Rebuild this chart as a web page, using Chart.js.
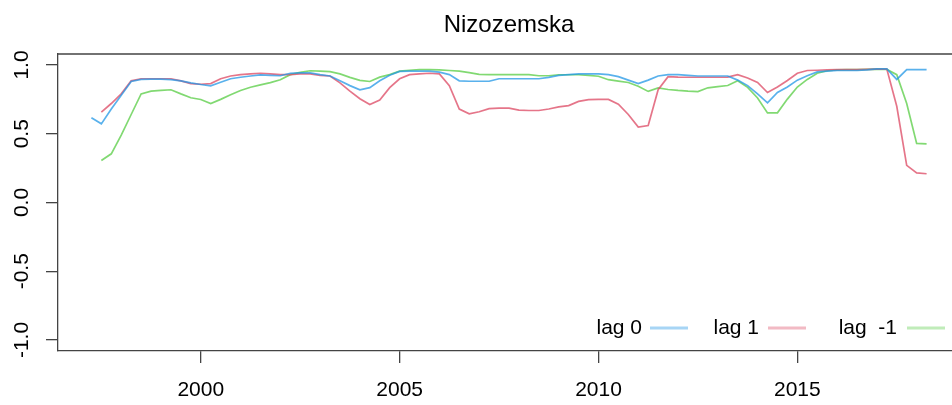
<!DOCTYPE html>
<html>
<head>
<meta charset="utf-8">
<script src="https://cdn.jsdelivr.net/npm/chart.js@4"></script>
<style>
  html, body { margin: 0; padding: 0; background: #fff; overflow: hidden; }
</style>
</head>
<body>
<canvas id="lagChart" width="980" height="405"></canvas>
<script>
// quarterly series, first quarter 1997 Q2
var t0 = 1997.25;
var dt = 0.25;

var lag0 = [0.616, 0.572, 0.68, 0.78, 0.88, 0.895, 0.897, 0.897, 0.893, 0.885,
  0.87, 0.858, 0.848, 0.875, 0.9, 0.911, 0.92, 0.928, 0.925, 0.922,
  0.94, 0.943, 0.943, 0.93, 0.92, 0.885, 0.85, 0.82, 0.835, 0.885,
  0.925, 0.953, 0.955, 0.955, 0.955, 0.948, 0.93, 0.885, 0.882, 0.882,
  0.882, 0.9, 0.9, 0.9, 0.9, 0.9, 0.91, 0.924, 0.93, 0.936,
  0.936, 0.936, 0.93, 0.915, 0.89, 0.865, 0.89, 0.92, 0.93, 0.93,
  0.925, 0.92, 0.92, 0.92, 0.92, 0.89, 0.85, 0.79, 0.725, 0.8,
  0.84, 0.89, 0.922, 0.95, 0.955, 0.96, 0.96, 0.96, 0.965, 0.972,
  0.972, 0.895, 0.967, 0.967, 0.967];

var lag1 = [null, 0.657, 0.72, 0.79, 0.885, 0.9, 0.9, 0.9, 0.9, 0.885,
  0.865, 0.86, 0.865, 0.9, 0.92, 0.93, 0.935, 0.94, 0.935, 0.93,
  0.93, 0.935, 0.935, 0.925, 0.92, 0.87, 0.81, 0.755, 0.712, 0.745,
  0.835, 0.9, 0.93, 0.935, 0.94, 0.935, 0.85, 0.68, 0.645, 0.66,
  0.683, 0.686, 0.686, 0.672, 0.669, 0.669, 0.68, 0.695, 0.705, 0.735,
  0.748, 0.75, 0.75, 0.715, 0.64, 0.548, 0.56, 0.82, 0.915, 0.912,
  0.911, 0.911, 0.911, 0.911, 0.912, 0.93, 0.905, 0.873, 0.8, 0.84,
  0.887, 0.94, 0.96, 0.962, 0.965, 0.967, 0.967, 0.967, 0.968, 0.97,
  0.97, 0.70, 0.27, 0.215, 0.209];

var lagM1 = [null, 0.305, 0.354, 0.49, 0.64, 0.79, 0.81, 0.815, 0.82, 0.79,
  0.762, 0.749, 0.72, 0.75, 0.783, 0.815, 0.838, 0.855, 0.872, 0.893,
  0.93, 0.946, 0.958, 0.955, 0.952, 0.935, 0.91, 0.888, 0.88, 0.912,
  0.93, 0.955, 0.962, 0.966, 0.967, 0.965, 0.96, 0.955, 0.945, 0.932,
  0.93, 0.93, 0.93, 0.93, 0.93, 0.922, 0.922, 0.929, 0.929, 0.929,
  0.925, 0.918, 0.893, 0.883, 0.873, 0.845, 0.808, 0.833, 0.822, 0.815,
  0.81, 0.807, 0.834, 0.843, 0.851, 0.886, 0.837, 0.76, 0.652, 0.652,
  0.752, 0.84, 0.895, 0.94, 0.958, 0.965, 0.966, 0.967, 0.968, 0.97,
  0.968, 0.93, 0.72, 0.43, 0.427];

var xTicks = [2000, 2005, 2010, 2015];
var yTicks = [-1, -0.5, 0, 0.5, 1];
var yTickLabels = ["-1.0", "-0.5", "0.0", "0.5", "1.0"];
var seriesNames = ["lag 0", "lag 1", "lag  -1"];
var seriesColors = ["rgba(34, 151, 230, 0.75)", "rgba(223, 83, 107, 0.8)", "rgba(97, 208, 79, 0.8)"];
var legendColors = ["rgba(34, 151, 230, 0.4)", "rgba(223, 83, 107, 0.4)", "rgba(97, 208, 79, 0.4)"];

function toPoints(vals) {
  return vals.map(function (v, i) { return { x: t0 + dt * i, y: v }; });
}

var FONT = "'Liberation Sans', Arial, sans-serif";

// R-style extras: frame top/right, rotated y labels, title, legend
var rExtras = {
  id: "rExtras",
  afterDraw: function (chart) {
    var c = chart.ctx;
    var a = chart.chartArea;
    var y = chart.scales.y;
    c.save();
    c.strokeStyle = "#444";
    c.lineWidth = 1.3;
    c.beginPath();
    c.moveTo(a.left, a.top);
    c.lineTo(a.right, a.top);
    c.lineTo(a.right, a.bottom);
    c.stroke();

    c.fillStyle = "#000";
    c.font = "21px " + FONT;
    c.textAlign = "center";
    c.textBaseline = "alphabetic";
    yTicks.forEach(function (v, i) {
      c.save();
      c.translate(28, y.getPixelForValue(v));
      c.rotate(-Math.PI / 2);
      c.fillText(yTickLabels[i], 0, 0);
      c.restore();
    });

    c.font = "24px " + FONT;
    c.fillText("Nizozemska", (a.left + a.right) / 2, 32);

    // legend, text left of the line
    c.font = "21px " + FONT;
    c.textAlign = "right";
    c.textBaseline = "middle";
    var textRight = [642, 759, 897];
    var lineStart = [650, 768, 907];
    var ly = a.bottom - 23;
    for (var i = 0; i < seriesNames.length; i++) {
      c.fillText(seriesNames[i], textRight[i], ly);
      c.strokeStyle = legendColors[i];
      c.lineWidth = 3;
      c.beginPath();
      c.moveTo(lineStart[i], ly);
      c.lineTo(lineStart[i] + 38, ly);
      c.stroke();
    }
    c.restore();
  }
};

var ctx = document.getElementById("lagChart").getContext("2d");
var chart = new Chart(ctx, {
  type: "line",
  data: {
    datasets: [
      { label: seriesNames[0], data: toPoints(lag0), borderColor: seriesColors[0] },
      { label: seriesNames[1], data: toPoints(lag1), borderColor: seriesColors[1] },
      { label: seriesNames[2], data: toPoints(lagM1), borderColor: seriesColors[2] },
    ],
  },
  options: {
    responsive: false,
    animation: false,
    devicePixelRatio: 1,
    layout: { padding: { top: 54, right: 20, left: 0, bottom: 0 } },
    elements: {
      line: { borderWidth: 1.7, tension: 0, fill: false },
      point: { radius: 0 },
    },
    plugins: {
      legend: { display: false },
      title: { display: false },
      tooltip: { enabled: false },
    },
    scales: {
      x: {
        type: "linear",
        min: 1996.41,
        max: 2019.09,
        afterBuildTicks: function (s) { s.ticks = xTicks.map(function (v) { return { value: v }; }); },
        afterFit: function (s) { s.height = 54; },
        grid: { drawOnChartArea: false, color: "#444", lineWidth: 1.3, tickLength: 12 },
        border: { color: "#444", width: 1.3 },
        ticks: {
          color: "#000",
          font: { family: FONT, size: 21 },
          padding: 15,
          maxRotation: 0,
          autoSkip: false,
          callback: function (v) { return String(v); },
        },
      },
      y: {
        min: -1.08,
        max: 1.08,
        afterBuildTicks: function (s) { s.ticks = yTicks.map(function (v) { return { value: v }; }); },
        afterFit: function (s) { s.width = 58; },
        grid: { drawOnChartArea: false, color: "#444", lineWidth: 1.3, tickLength: 12 },
        border: { color: "#444", width: 1.3 },
        ticks: { display: false },
      },
    },
  },
  plugins: [rExtras],
});
</script>
</body>
</html>
